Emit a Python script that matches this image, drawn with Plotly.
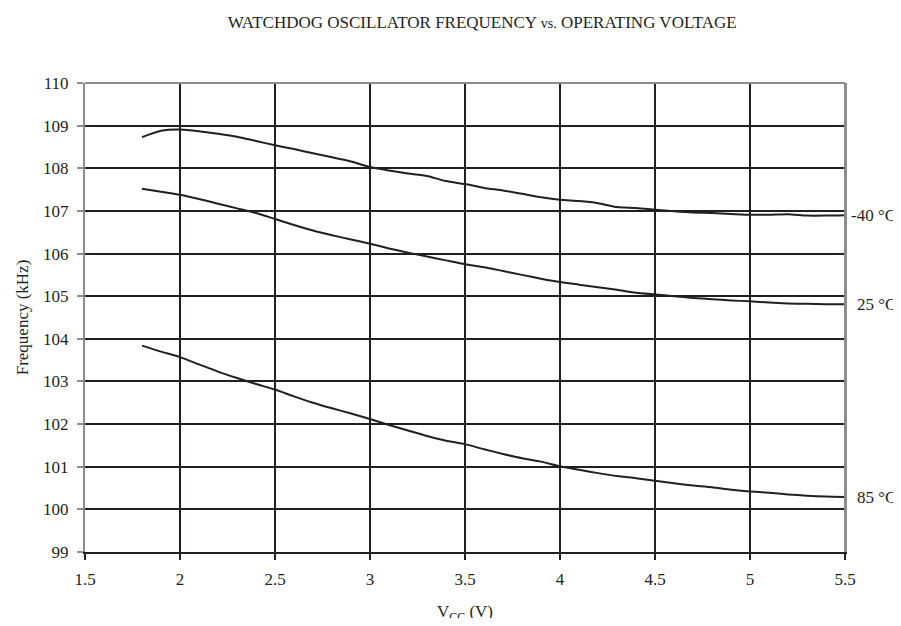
import plotly.graph_objects as go

# Tension d'alimentation (V)
vcc = [1.8, 1.9, 2.0, 2.1, 2.2, 2.3, 2.4, 2.5, 2.6, 2.7, 2.8, 2.9, 3.0, 3.1, 3.2, 3.3, 3.4, 3.5, 3.6,
       3.7, 3.8, 3.9, 4.0, 4.1, 4.2, 4.3, 4.4, 4.5, 4.6, 4.7, 4.8, 4.9, 5.0, 5.1, 5.2, 5.3, 5.4, 5.5]

# Fréquence (kHz) par température
freq_m40 = [108.73, 108.88, 108.91, 108.87, 108.81, 108.74, 108.64, 108.54, 108.45, 108.35, 108.26,
            108.16, 108.03, 107.95, 107.88, 107.82, 107.70, 107.63, 107.54, 107.48, 107.40, 107.32,
            107.26, 107.23, 107.18, 107.09, 107.07, 107.03, 106.99, 106.96, 106.95, 106.93, 106.91,
            106.91, 106.92, 106.89, 106.89, 106.90]
freq_25 = [107.52, 107.45, 107.38, 107.28, 107.17, 107.06, 106.95, 106.81, 106.67, 106.54, 106.43,
           106.33, 106.23, 106.12, 106.02, 105.93, 105.84, 105.75, 105.68, 105.59, 105.50, 105.41,
           105.33, 105.27, 105.21, 105.15, 105.08, 105.04, 105.00, 104.96, 104.93, 104.90, 104.88,
           104.85, 104.83, 104.82, 104.81, 104.81]
freq_85 = [103.84, 103.70, 103.57, 103.40, 103.23, 103.08, 102.94, 102.81, 102.65, 102.50, 102.37,
           102.25, 102.12, 101.98, 101.85, 101.72, 101.61, 101.53, 101.41, 101.30, 101.20, 101.12,
           101.01, 100.93, 100.85, 100.78, 100.73, 100.67, 100.61, 100.56, 100.52, 100.46, 100.42,
           100.39, 100.35, 100.32, 100.30, 100.29]

series = [("-40 °C", freq_m40), ("25 °C", freq_25), ("85 °C", freq_85)]

x_ticks = [1.5, 2, 2.5, 3, 3.5, 4, 4.5, 5, 5.5]
y_ticks = list(range(99, 111))

FONT = "Liberation Serif"
INK = "#231f20"
GREY = "#8c8c8c"

fig = go.Figure()

for name, values in series:
    fig.add_trace(go.Scatter(
        x=vcc, y=values, mode="lines", name=name,
        line=dict(color=INK, width=2, shape="spline", smoothing=0.6),
        showlegend=False
    ))
    # étiquette de température à droite du tracé
    fig.add_annotation(
        x=1, xref="paper", y=values[-1], yref="y",
        text=name, showarrow=False, xanchor="right", xshift=53,
        font=dict(family=FONT, size=17, color=INK)
    )

# titre de l'axe X placé à la main (le standoff est ignoré sans automargin)
fig.add_annotation(
    x=0.5, xref="paper", y=-0.13, yref="paper", yanchor="middle",
    text="V<sub>CC</sub> (V)", showarrow=False,
    font=dict(family=FONT, size=17, color=INK)
)

# la page ajoute une marge de 8 px autour de la figure (pas de barre de défilement)
fig.update_layout(
    width=893, height=610,
    paper_bgcolor="white", plot_bgcolor="white",
    margin=dict(l=77, r=56, t=75, b=66),
    font=dict(family=FONT, color=INK),
    title=dict(
        text="WATCHDOG OSCILLATOR FREQUENCY <span style='font-size:14px'>vs.</span> OPERATING VOLTAGE",
        x=0.531, xanchor="center", xref="container", y=1 - 14 / 610, yref="container", yanchor="middle",
        font=dict(family=FONT, size=17, color=INK)
    ),
    xaxis=dict(
        range=[1.5, 5.5], tickvals=x_ticks, ticktext=[f"{v:g}" for v in x_ticks],
        showgrid=True, gridcolor=INK, gridwidth=2,
        showline=True, linecolor=INK, linewidth=2, mirror=False,
        ticks="outside", ticklen=6, tickcolor=INK, tickwidth=1.5,
        ticklabelstandoff=5, automargin=False,
        tickfont=dict(family=FONT, size=17, color=INK),
        zeroline=False
    ),
    yaxis=dict(
        range=[99, 110], tickvals=y_ticks,
        showgrid=True, gridcolor=INK, gridwidth=1.5,
        showline=True, linecolor=GREY, linewidth=2, mirror=True,
        ticks="outside", ticklen=6, tickcolor=GREY, tickwidth=1.5,
        ticklabelstandoff=5, automargin=False,
        tickfont=dict(family=FONT, size=17, color=INK),
        title=dict(text="Frequency (kHz)", font=dict(family=FONT, size=17, color=INK), standoff=10),
        zeroline=False
    ),
)

# bordures droite et haute grises
fig.add_shape(type="line", xref="paper", yref="paper", x0=1, x1=1, y0=0, y1=1,
              line=dict(color=GREY, width=2))
fig.add_shape(type="line", xref="paper", yref="paper", x0=0, x1=1, y0=1, y1=1,
              line=dict(color=GREY, width=2))

fig.write_html("out.html")
